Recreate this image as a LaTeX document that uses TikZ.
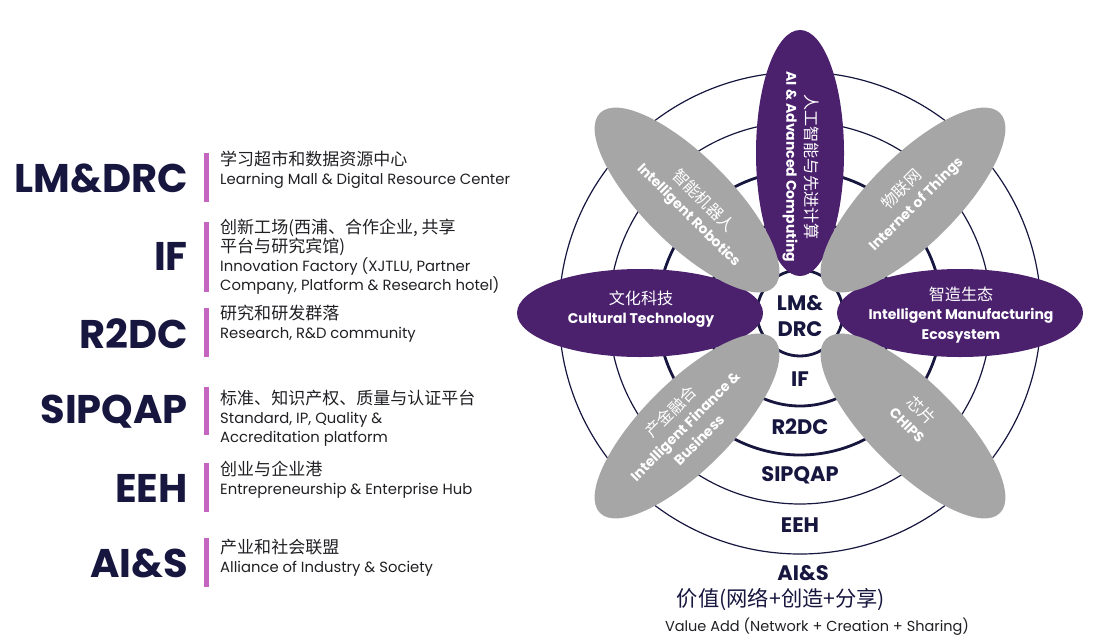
\documentclass[tikz,border=0pt]{standalone}
\usepackage{fontspec}
\setmainfont{Poppins}
\newfontfamily\cjk[Scale=1.15]{Noto Sans CJK SC}
\usetikzlibrary{shapes.geometric}

\definecolor{navy}{HTML}{16163F}
\definecolor{inkgray}{HTML}{202024}
\definecolor{petalpurple}{HTML}{4B216E}
\definecolor{petalgray}{HTML}{A6A6A6}
\definecolor{barpink}{HTML}{C466C0}

\tikzset{
  ring/.style={draw=navy, line width=1.2pt},
  thickring/.style={draw=navy, line width=2.8pt},
  petal/.style={ellipse, inner sep=0pt, minimum width=246pt, minimum height=88pt},
  purplepetal/.style={petal, fill=petalpurple},
  graypetal/.style={petal, fill=petalgray},
  petaltext/.style={text=white, align=center, inner sep=0pt, font=\fontsize{14}{19.5}\selectfont\bfseries},
  bigtag/.style={anchor=east, text=navy, inner sep=0pt, font=\fontsize{40}{40}\selectfont\bfseries},
  desc/.style={anchor=west, text=inkgray, align=left, inner sep=0pt, font=\fontsize{14.8}{19}\selectfont},
  layer/.style={text=navy, align=center, inner sep=0pt, font=\fontsize{21}{26}\selectfont\bfseries}
}

\begin{document}
\begin{tikzpicture}[x=1pt, y=-1pt]
  \useasboundingbox (0,0) rectangle (1097,643);

  % left column: tags, bars, descriptions
  \node[bigtag] (tLM) at (188,178) {LM\&DRC};
  \node[bigtag] (tIF) at (188,256) {IF};
  \node[bigtag] (tRD) at (188,334) {R2DC};
  \node[bigtag] (tSQ) at (188,412) {SIPQAP};
  \node[bigtag] (tEE) at (188,488) {EEH};
  \node[bigtag] (tAS) at (188,563) {AI\&S};
  \foreach \ya/\yb in {153/202, 222/292, 308/357, 387/435, 463/512, 538/587}
    \fill[barpink] (204,\ya) rectangle (209,\yb);

  \node[desc] (dLM) at (220,170) {{\cjk 学习超市和数据资源中心}\\Learning Mall \& Digital Resource Center};
  \node[desc] (dIF) at (220,257) {{\cjk 创新工场(西浦、合作企业, 共享}\\{\cjk 平台与研究宾馆)}\\Innovation Factory (XJTLU, Partner\\Company, Platform \& Research hotel)};
  \node[desc] (dRD) at (220,324) {{\cjk 研究和研发群落}\\Research, R\&D community};
  \node[desc] (dSQ) at (220,418) {{\cjk 标准、知识产权、质量与认证平台}\\Standard, IP, Quality \&\\Accreditation platform};
  \node[desc] (dEE) at (220,480) {{\cjk 创业与企业港}\\Entrepreneurship \& Enterprise Hub};
  \node[desc] (dAS) at (220,558) {{\cjk 产业和社会联盟}\\Alliance of Industry \& Society};

  % rings
  \coordinate (hub) at (800,313);
  \foreach \r in {191,241}
    \draw[ring] (hub) circle (\r pt);
  \foreach \r in {43,93,142}
    \draw[thickring] (hub) circle (\r pt);

  % petals
  \node[purplepetal, rotate=90] (pAI) at (800,153) {};
  \node[purplepetal] (pCul) at (640,313) {};
  \node[purplepetal] (pMfg) at (960,313) {};
  \node[graypetal, rotate=-45] (pRob) at (687,200) {};
  \node[graypetal, rotate=45] (pIoT) at (913,200) {};
  \node[graypetal, rotate=45] (pFin) at (687,426) {};
  \node[graypetal, rotate=-45] (pChp) at (913,426) {};

  \node[petaltext, rotate=-90] (xAI) at (801,167) {{\cjk\mdseries 人工智能与先进计算}\\AI \& Advanced Computing};
  \node[petaltext] (xCul) at (641,309) {{\cjk\mdseries 文化科技}\\Cultural Technology};
  \node[petaltext] (xMfg) at (961,315) {{\cjk\mdseries 智造生态}\\Intelligent Manufacturing\\Ecosystem};
  \node[petaltext, rotate=-45] (xRob) at (696,208) {{\cjk\mdseries 智能机器人}\\Intelligent Robotics};
  \node[petaltext, rotate=45] (xIoT) at (909,197) {{\cjk\mdseries 物联网}\\Internet of Things};
  \node[petaltext, rotate=45] (xFin) at (684,425) {{\cjk\mdseries 产金融合}\\Intelligent Finance \&\\Business};
  \node[petaltext, rotate=-45] (xChp) at (915,417) {{\cjk\mdseries 芯片}\\CHIPS};

  % layer labels
  \node[layer] (lLM) at (800,316) {LM\&\\DRC};
  \node[layer] (lIF) at (800,379) {IF};
  \node[layer] (lRD) at (800,427) {R2DC};
  \node[layer] (lSQ) at (800,475) {SIPQAP};
  \node[layer] (lEE) at (800,525) {EEH};
  \node[layer] (lAS) at (803,573) {AI\&S};
  \node[text=navy, inner sep=0pt, font=\fontsize{18.5}{22}\selectfont\cjk] (vZh) at (781,600) {价值(网络+创造+分享)};
  \node[text=inkgray, inner sep=0pt, font=\fontsize{14.5}{18}\selectfont] (vEn) at (817,627) {Value Add (Network + Creation + Sharing)};
\end{tikzpicture}
\end{document}
